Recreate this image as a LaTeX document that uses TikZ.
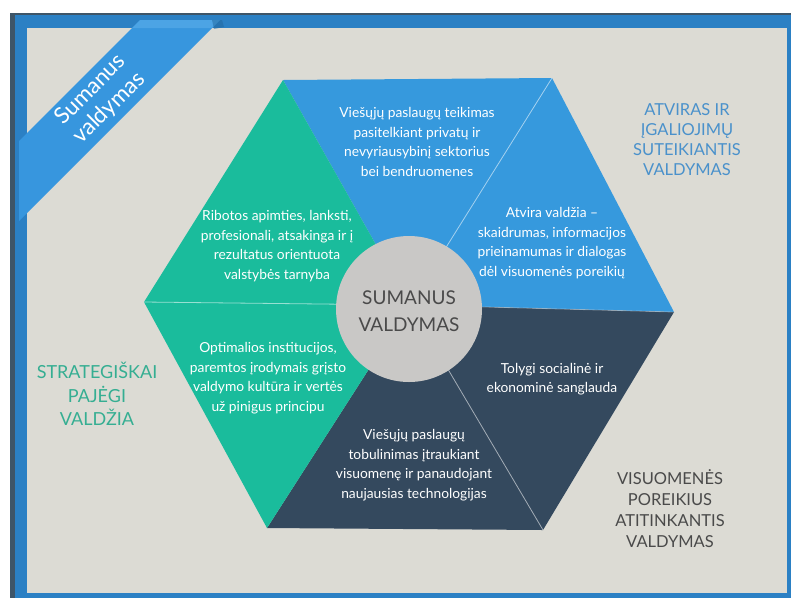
\documentclass[tikz,border=0pt]{standalone}
\usepackage{fontspec}
\setmainfont{Lato}
\definecolor{bgbeige}{HTML}{DCDBD4}
\definecolor{frameblue}{HTML}{2B80C4}
\definecolor{framedark}{HTML}{3E5568}
\definecolor{hexblue}{HTML}{3699DD}
\definecolor{hexgreen}{HTML}{1ABC9C}
\definecolor{hexdark}{HTML}{34495E}
\definecolor{circgray}{HTML}{C9C8C6}
\definecolor{lblblue}{HTML}{4A91CB}
\definecolor{lblgreen}{HTML}{35AE92}
\definecolor{lbldark}{HTML}{4A4A4A}
\definecolor{ribblue}{HTML}{3796DE}
\definecolor{ribhi}{HTML}{5AAEEB}
\tikzset{
  intext/.style={text=white, align=center, font=\fontsize{13.8}{19.5}\selectfont},
  outlabel/.style={align=center, font=\fontsize{16.5}{20}\selectfont},
  sepline/.style={white, opacity=0.55, line width=0.8pt},
}
\begin{document}
\begin{tikzpicture}[x=1pt,y=-1pt]
\useasboundingbox (0,0) rectangle (791,598);
% frame
\fill[white] (0,0) rectangle (791,598);
\fill[framedark] (10,13) rectangle (791,598);
\fill[frameblue] (15,15) rectangle (791,598);
\fill[bgbeige] (27,28) rectangle (787,593);
% hexagon vertices
\coordinate (c) at (410,305);
\coordinate (tl) at (283,80);
\coordinate (tr) at (552,78);
\coordinate (r) at (674,312);
\coordinate (br) at (543,530);
\coordinate (bl) at (267,528);
\coordinate (l) at (144,302);
% sectors
\fill[hexblue] (c) -- (tl) -- (tr) -- (r) -- cycle;
\fill[hexdark] (c) -- (r) -- (br) -- (bl) -- cycle;
\fill[hexgreen] (c) -- (bl) -- (l) -- (tl) -- cycle;
\draw[sepline] (c) -- (tr);
\draw[sepline] (c) -- (l);
\draw[sepline] (c) -- (br);
\draw[sepline, opacity=0.35] (c) -- (r);
% centre circle
\fill[circgray] (409,309) circle[radius=73];
\node[text=lbldark, align=center, font=\fontsize{19}{27}\selectfont] (center) at (409,311) {SUMANUS\\VALDYMAS};
% sector texts
\node[intext] (t1) at (417,142) {Viešųjų paslaugų teikimas\\pasitelkiant privatų ir\\nevyriausybinį sektorius\\bei bendruomenes};
\node[intext] (t2) at (552,243) {Atvira valdžia –\\skaidrumas, informacijos\\prieinamumas ir dialogas\\dėl visuomenės poreikių};
\node[intext] (t3) at (277,246) {Ribotos apimties, lanksti,\\profesionali, atsakinga ir į\\rezultatus orientuota\\valstybės tarnyba};
\node[intext] (t4) at (268,378) {Optimalios institucijos,\\paremtos įrodymais grįsto\\valdymo kultūra ir vertės\\už pinigus principu};
\node[intext] (t5) at (414,465) {Viešųjų paslaugų\\tobulinimas įtraukiant\\visuomenę ir panaudojant\\naujausias technologijas};
\node[intext] (t6) at (552,379) {Tolygi socialinė ir\\ekonominė sanglauda};
% outside labels
\node[outlabel, text=lblblue] (la) at (687,140) {ATVIRAS IR\\ĮGALIOJIMŲ\\SUTEIKIANTIS\\VALDYMAS};
\node[outlabel, text=lblgreen, font=\fontsize{18}{23.5}\selectfont] (lb) at (97,394) {STRATEGIŠKAI\\PAJĖGI\\VALDŽIA};
\node[outlabel, text=lbldark, font=\fontsize{16.5}{21}\selectfont] (lc) at (670,509) {VISUOMENĖS\\POREIKIUS\\ATITINKANTIS\\VALDYMAS};
% ribbon
\fill[ribblue] (19,141) -- (140,20) -- (220,20) -- (19,221) -- cycle;
\fill[ribhi, opacity=0.6] (140,20) -- (220,20) -- (212,28) -- (132,28) -- cycle;
\fill[frameblue!80!black, opacity=0.5] (212,20) -- (222,20) -- (224,27) -- (214,29) -- cycle;
\node[text=white, rotate=45, align=center, inner sep=0pt, font=\fontsize{22.5}{26}\selectfont] (rib) at (100,99) {Sumanus\\valdymas};
\end{tikzpicture}
\end{document}
